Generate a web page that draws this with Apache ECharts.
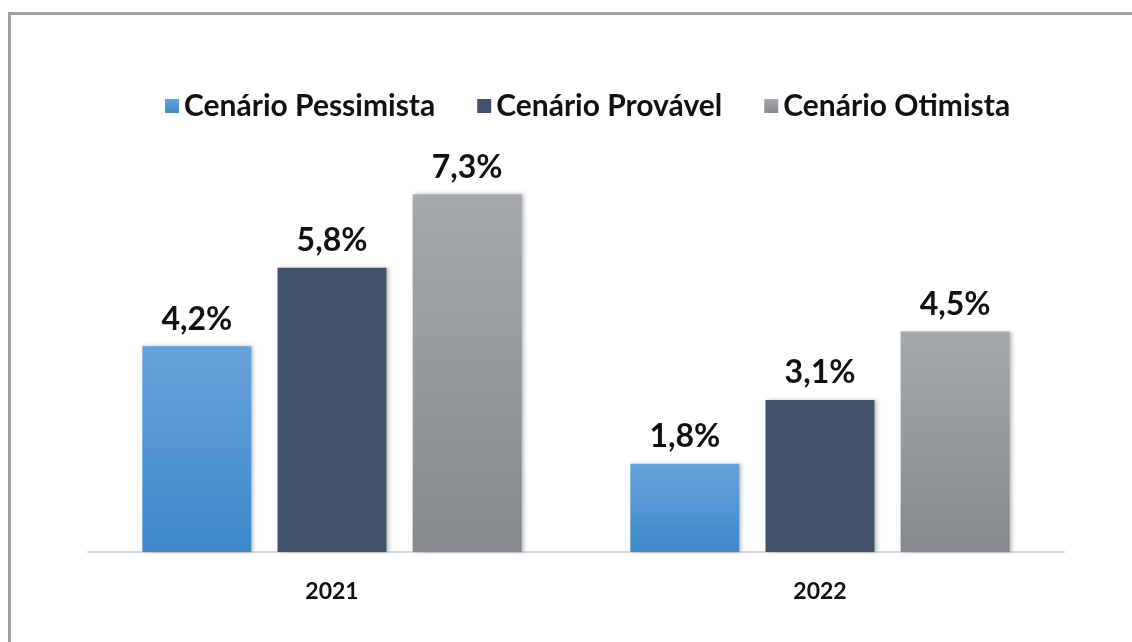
<!DOCTYPE html>
<html>
<head>
    <meta charset="utf-8">
    <title>Cenários</title>
    <style>
        html, body { margin: 0; padding: 0; background: #fff; }
        #frame { position: absolute; left: 8px; top: 12px; width: 1200px; height: 700px;
                 border-left: 3px solid #a0a0a0; border-top: 3px solid #a0a0a0; }
        #chart { position: absolute; left: 0; top: 0; width: 1132px; height: 642px; }
    </style>
</head>
<body>
<div id="frame"></div>
<div id="chart"></div>
<script src="https://cdn.jsdelivr.net/npm/echarts@6/dist/echarts.min.js"></script>
<script type="text/javascript">
    // dados
    var categorias = ['2021', '2022'];
    var nomes = ['Cenário Pessimista', 'Cenário Provável', 'Cenário Otimista'];
    var pessimista = [4.2, 1.8];
    var provavel = [5.8, 3.1];
    var otimista = [7.3, 4.5];

    var fonte = 'Lato, "Liberation Sans", sans-serif';

    function grad(a, b) {
        return new echarts.graphic.LinearGradient(0, 0, 0, 1, [
            { offset: 0, color: a },
            { offset: 1, color: b }
        ]);
    }

    function serie(nome, dados, cor) {
        return {
            name: nome,
            type: 'bar',
            data: dados,
            barWidth: 109,
            barGap: '24%',
            itemStyle: {
                color: cor,
                shadowBlur: 4,
                shadowOffsetX: 2,
                shadowColor: 'rgba(0,0,0,0.25)'
            },
            label: {
                show: true,
                position: 'top',
                distance: 11,
                fontFamily: fonte,
                fontWeight: 'bold',
                fontSize: 32,
                color: '#111',
                formatter: function (p) {
                    return p.value.toFixed(1).replace('.', ',') + '%';
                }
            }
        };
    }

    var myChart = echarts.init(document.getElementById('chart'));
    var option = {
        animation: false,
        color: ['#4a90d0', '#42526a', '#9a9c9e'],
        legend: {
            data: nomes,
            top: 86,
            left: 160,
            icon: 'rect',
            itemWidth: 14,
            itemHeight: 14,
            itemGap: 42,
            textStyle: {
                fontFamily: fonte,
                fontWeight: 'bold',
                fontSize: 30,
                color: '#111'
            }
        },
        grid: { left: 88, right: 68, top: 160, bottom: 90 },
        xAxis: {
            type: 'category',
            data: categorias,
            axisTick: { show: false },
            axisLine: { lineStyle: { color: '#d9d9d9', width: 2 } },
            axisLabel: {
                margin: 28,
                fontFamily: fonte,
                fontWeight: 'bold',
                fontSize: 23,
                color: '#111'
            }
        },
        yAxis: {
            type: 'value',
            min: 0,
            max: 8,
            show: false,
            splitLine: { show: false }
        },
        series: [
            serie(nomes[0], pessimista, grad('#68a3d9', '#3d88cb')),
            serie(nomes[1], provavel, '#42526a'),
            serie(nomes[2], otimista, grad('#a6a9ab', '#86898b'))
        ]
    };
    myChart.setOption(option);
</script>
</body>
</html>
